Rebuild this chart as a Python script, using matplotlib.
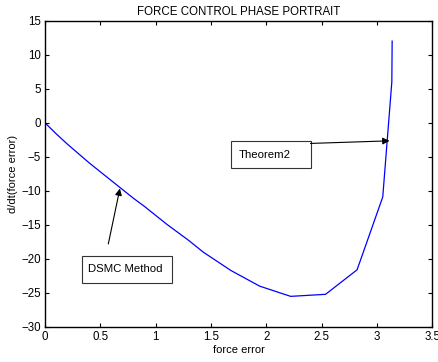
import matplotlib
matplotlib.use("Agg")
import matplotlib.pyplot as plt
from matplotlib.patches import Rectangle

plt.rcParams['font.family'] = ['Liberation Sans', 'DejaVu Sans']

# Data
force_error = [0.0, 0.1, 0.2, 0.3, 0.4, 0.5, 0.6, 0.7, 0.8, 0.9, 1.0, 1.1, 1.2, 1.3,
               1.43, 1.68, 1.94, 2.22, 2.535, 2.82, 3.052, 3.134, 3.137]
dforce_error = [0.0, -1.6, -3.1, -4.5, -5.9, -7.2, -8.5, -9.8, -11.1, -12.3, -13.6, -14.9,
                -16.1, -17.3, -19.0, -21.7, -24.0, -25.5, -25.2, -21.6, -10.9, 6.0, 12.0]
xticks = [0, 0.5, 1, 1.5, 2, 2.5, 3, 3.5]
xticklabels = ['0', '0.5', '1', '1.5', '2', '2.5', '3', '3.5']
yticks = [-30, -25, -20, -15, -10, -5, 0, 5, 10, 15]

fig = plt.figure(figsize=(4.39, 3.62), dpi=100)
ax = fig.add_axes([0.1025, 0.0967, 0.8823, 0.8461])

ax.plot(force_error, dforce_error, color='#0000ff', linewidth=0.9)

ax.set_xlim(0, 3.5)
ax.set_ylim(-30, 15)
ax.set_xticks(xticks)
ax.set_xticklabels(xticklabels)
ax.set_yticks(yticks)
ax.tick_params(direction='in', top=True, right=True, labelsize=8.3, length=3, width=0.8, pad=3)
for s in ax.spines.values():
    s.set_linewidth(1.0)

ax.set_title('FORCE CONTROL PHASE PORTRAIT', fontsize=8.3, pad=4)
ax.set_xlabel('force error', fontsize=8, labelpad=1)
ax.set_ylabel('d/dt(force error)', fontsize=8, labelpad=2)

# Annotation boxes
ax.add_patch(Rectangle((1.682, -6.7), 0.723, 4.05, fill=False, edgecolor='#333333', linewidth=0.8))
ax.text(1.75, -4.67, 'Theorem2', fontsize=8.2, va='center', ha='left')
ax.annotate('', xy=(3.113, -2.65), xytext=(2.399, -3.03),
            arrowprops=dict(arrowstyle='-|>', color='black', lw=0.8, mutation_scale=10,
                            shrinkA=0, shrinkB=0))

ax.add_patch(Rectangle((0.335, -23.5), 0.814, 3.9, fill=False, edgecolor='#333333', linewidth=0.8))
ax.text(0.39, -21.5, 'DSMC Method', fontsize=8.2, va='center', ha='left')
ax.annotate('', xy=(0.677, -9.65), xytext=(0.572, -17.8),
            arrowprops=dict(arrowstyle='-|>', color='black', lw=0.8, mutation_scale=10,
                            shrinkA=0, shrinkB=0))

fig.savefig('out.png', dpi=100)
